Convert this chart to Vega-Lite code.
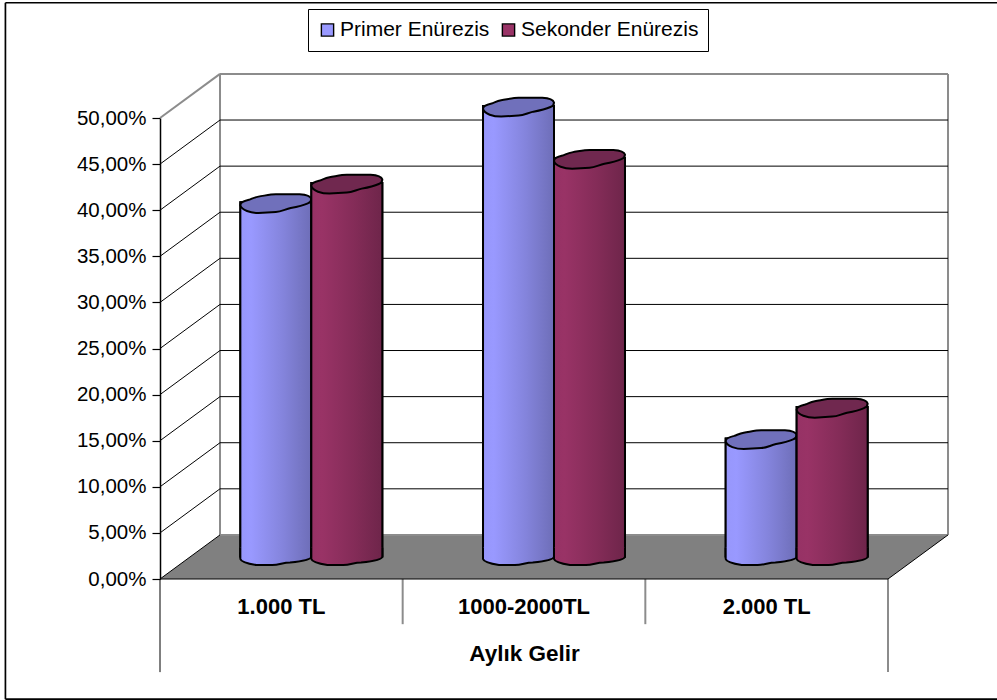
{
  "$schema": "https://vega.github.io/schema/vega-lite/v6.json",
  "width": 728,
  "height": 461,
  "padding": {"left": 160, "top": 118, "right": 109, "bottom": 121},
  "autosize": "none",
  "background": "white",
  "config": {
    "font": "Liberation Sans",
    "view": {"stroke": null},
    "axis": {"grid": false}
  },
  "datasets": {
    "results": [
      {"gelir": "1.000 TL", "tur": "Primer Enürezis", "oran": 38.3},
      {"gelir": "1.000 TL", "tur": "Sekonder Enürezis", "oran": 40.4},
      {"gelir": "1000-2000TL", "tur": "Primer Enürezis", "oran": 48.75},
      {"gelir": "1000-2000TL", "tur": "Sekonder Enürezis", "oran": 43.1},
      {"gelir": "2.000 TL", "tur": "Primer Enürezis", "oran": 12.7},
      {"gelir": "2.000 TL", "tur": "Sekonder Enürezis", "oran": 16.1}
    ],
    "floor": [
      {"d": 0, "a": 0, "b": 0},
      {"d": 0.2473, "a": 4.78, "b": 0},
      {"d": 3, "a": 4.78, "b": 0},
      {"d": 3.2473, "a": 4.78, "b": 4.78}
    ],
    "ink": [
      {"id": "s0", "d": 0, "v": 0}, {"id": "s0", "d": 0.2473, "v": 4.78},
      {"id": "s5", "d": 0, "v": 5}, {"id": "s5", "d": 0.2473, "v": 9.78},
      {"id": "s10", "d": 0, "v": 10}, {"id": "s10", "d": 0.2473, "v": 14.78},
      {"id": "s15", "d": 0, "v": 15}, {"id": "s15", "d": 0.2473, "v": 19.78},
      {"id": "s20", "d": 0, "v": 20}, {"id": "s20", "d": 0.2473, "v": 24.78},
      {"id": "s25", "d": 0, "v": 25}, {"id": "s25", "d": 0.2473, "v": 29.78},
      {"id": "s30", "d": 0, "v": 30}, {"id": "s30", "d": 0.2473, "v": 34.78},
      {"id": "s35", "d": 0, "v": 35}, {"id": "s35", "d": 0.2473, "v": 39.78},
      {"id": "s40", "d": 0, "v": 40}, {"id": "s40", "d": 0.2473, "v": 44.78},
      {"id": "s45", "d": 0, "v": 45}, {"id": "s45", "d": 0.2473, "v": 49.78},
      {"id": "b5", "d": 0.2473, "v": 9.78}, {"id": "b5", "d": 3.2473, "v": 9.78},
      {"id": "b10", "d": 0.2473, "v": 14.78}, {"id": "b10", "d": 3.2473, "v": 14.78},
      {"id": "b15", "d": 0.2473, "v": 19.78}, {"id": "b15", "d": 3.2473, "v": 19.78},
      {"id": "b20", "d": 0.2473, "v": 24.78}, {"id": "b20", "d": 3.2473, "v": 24.78},
      {"id": "b25", "d": 0.2473, "v": 29.78}, {"id": "b25", "d": 3.2473, "v": 29.78},
      {"id": "b30", "d": 0.2473, "v": 34.78}, {"id": "b30", "d": 3.2473, "v": 34.78},
      {"id": "b35", "d": 0.2473, "v": 39.78}, {"id": "b35", "d": 3.2473, "v": 39.78},
      {"id": "b40", "d": 0.2473, "v": 44.78}, {"id": "b40", "d": 3.2473, "v": 44.78},
      {"id": "b45", "d": 0.2473, "v": 49.78}, {"id": "b45", "d": 3.2473, "v": 49.78},
      {"id": "floorRight", "d": 3, "v": 0}, {"id": "floorRight", "d": 3.2473, "v": 4.78},
      {"id": "floorFront", "d": 0, "v": 0}, {"id": "floorFront", "d": 3, "v": 0},
      {"id": "drop0", "d": 0, "v": 0}, {"id": "drop0", "d": 0, "v": -10.1}
    ],
    "frame": [
      {"id": "frameLeft", "d": -0.637, "v": -13.03}, {"id": "frameLeft", "d": -0.637, "v": 62.5},
      {"id": "frameTop", "d": -0.637, "v": 62.5}, {"id": "frameTop", "d": 3.46, "v": 62.5},
      {"id": "frameBottom", "d": -0.637, "v": -13.03}, {"id": "frameBottom", "d": 3.46, "v": -13.03}
    ],
    "walls": [
      {"id": "s50", "d": 0, "v": 50}, {"id": "s50", "d": 0.2473, "v": 54.78},
      {"id": "b50", "d": 0.2473, "v": 54.78}, {"id": "b50", "d": 3.2473, "v": 54.78},
      {"id": "b0", "d": 0.2473, "v": 4.78}, {"id": "b0", "d": 3.2473, "v": 4.78},
      {"id": "backLeft", "d": 0.2473, "v": 4.78}, {"id": "backLeft", "d": 0.2473, "v": 54.78},
      {"id": "backRight", "d": 3.2473, "v": 4.78}, {"id": "backRight", "d": 3.2473, "v": 54.78},
      {"id": "drop1", "d": 1, "v": 0}, {"id": "drop1", "d": 1, "v": -4.9},
      {"id": "drop2", "d": 2, "v": 0}, {"id": "drop2", "d": 2, "v": -4.9},
      {"id": "drop3", "d": 3, "v": 0}, {"id": "drop3", "d": 3, "v": -10.1}
    ]
  },
  "layer": [
    {
      "layer": [
        {
          "data": {"name": "floor"},
          "mark": {"type": "area", "color": "#808080"},
          "encoding": {
            "x": {"field": "d", "type": "quantitative", "axis": null, "scale": {"domain": [0, 3], "nice": false, "zero": false}},
            "y": {
              "field": "a", "type": "quantitative", "title": null,
              "scale": {"domain": [0, 50], "nice": false},
              "axis": {
                "values": [0, 5, 10, 15, 20, 25, 30, 35, 40, 45, 50],
                "labelExpr": "replace(format(datum.value, '.2f'), '.', ',') + '%'",
                "labelFontSize": 20.5, "labelColor": "#000", "labelPadding": 6, "labelOverlap": false, "labelBound": false,
                "tickColor": "#000", "tickSize": 8, "domainColor": "#000", "domainWidth": 1.5, "tickWidth": 1.2, "title": null
              }
            },
            "y2": {"field": "b"}
          }
        },
        {
          "data": {"name": "walls"},
          "mark": {"type": "line", "color": "#8c8c8c", "strokeWidth": 2},
          "encoding": {
            "x": {"field": "d", "type": "quantitative", "axis": null},
            "y": {"field": "v", "type": "quantitative", "title": null},
            "detail": {"field": "id"}
          }
        },
        {
          "data": {"name": "ink"},
          "mark": {"type": "line", "color": "#000", "strokeWidth": 1},
          "encoding": {
            "x": {"field": "d", "type": "quantitative", "axis": null},
            "y": {"field": "v", "type": "quantitative", "title": null},
            "detail": {"field": "id"}
          }
        },
        {
          "data": {"name": "frame"},
          "mark": {"type": "line", "color": "#000", "strokeWidth": 1.7},
          "encoding": {
            "x": {"field": "d", "type": "quantitative", "axis": null},
            "y": {"field": "v", "type": "quantitative", "title": null},
            "detail": {"field": "id"}
          }
        }
      ]
    },
    {
      "data": {"name": "results"},
      "encoding": {
        "x": {
          "field": "gelir", "type": "nominal", "sort": null,
          "scale": {"paddingInner": 0.415, "paddingOuter": 0.2075, "range": [30, 758]},
          "title": "Aylık Gelir",
          "axis": {
            "labelAngle": 0, "labelOffset": -30, "labelFontSize": 22, "labelFontWeight": "bold", "labelColor": "#000",
            "labelPadding": 17, "labelOverlap": false, "labelBound": false, "ticks": false, "domain": false,
            "titleFontSize": 22.5, "titleFontWeight": "bold", "titleColor": "#000", "titlePadding": 25, "titleX": 364
          }
        },
        "xOffset": {"field": "tur", "type": "nominal", "sort": null, "scale": {"paddingInner": 0, "paddingOuter": 0}},
        "y": {"field": "oran", "type": "quantitative", "title": null}
      },
      "layer": [
        {
          "transform": [{"filter": "datum.tur === 'Primer Enürezis'"}],
          "layer": [
            {
              "mark": {"type": "bar", "stroke": "#000", "strokeWidth": 2, "yOffset": -23.5, "y2Offset": -22.5},
              "encoding": {
                "y2": {"datum": 0},
                "color": {
                  "field": "tur", "type": "nominal",
                  "scale": {"domain": ["Primer Enürezis", "Sekonder Enürezis"], "range": ["#9999ff", "#993366"]},
                  "legend": {
                    "title": null, "orient": "none", "legendX": 148, "legendY": -109, "direction": "horizontal", "columns": 2,
                    "symbolType": "square", "symbolSize": 150, "symbolStrokeColor": "#000", "symbolStrokeWidth": 1.4,
                    "labelFontSize": 21, "labelOffset": 2, "labelColor": "#000", "labelLimit": 300, "columnPadding": 8,
                    "clipHeight": 24, "strokeColor": "#000", "fillColor": "#fff", "padding": 9
                  }
                }
              }
            },
            {
              "mark": {
                "type": "bar", "stroke": "#000", "strokeWidth": 2, "yOffset": -23.5, "y2Offset": -22.5,
                "fill": {"gradient": "linear", "x1": 0, "x2": 1, "y1": 0, "y2": 0, "stops": [{"offset": 0, "color": "#9797fb"}, {"offset": 0.15, "color": "#9999ff"}, {"offset": 0.6, "color": "#8484dc"}, {"offset": 1, "color": "#6e6eb8"}]}
              },
              "encoding": {"y2": {"datum": 0}}
            },
            {
              "mark": {
                "type": "point", "filled": true, "opacity": 1, "size": 5041, "stroke": "#000", "strokeWidth": 2, "yOffset": -22.5,
                "shape": "M-1,-0.25 L-1,0.07 C-0.98,0.15 -0.8,0.2 -0.55,0.24 L-0.1,0.24 C0.1,0.24 0.2,0.17 0.4,0.17 C0.8,0.13 1,0.08 1,0 L1,-0.25",
                "fill": {"gradient": "linear", "x1": 0, "x2": 1, "y1": 0, "y2": 0, "stops": [{"offset": 0, "color": "#9797fb"}, {"offset": 0.15, "color": "#9999ff"}, {"offset": 0.6, "color": "#8484dc"}, {"offset": 1, "color": "#6e6eb8"}]}
              },
              "encoding": {"y": {"datum": 0, "type": "quantitative", "title": null}}
            },
            {
              "mark": {
                "type": "point", "filled": true, "opacity": 1, "size": 5041, "fill": "#7070bb", "stroke": "#000", "strokeWidth": 2, "yOffset": -22.5,
                "shape": "M-1,0.05 C-1,-0.03 -0.9,-0.07 -0.76,-0.1 C-0.65,-0.14 -0.6,-0.17 -0.49,-0.19 C-0.3,-0.22 -0.15,-0.26 0,-0.26 L0.67,-0.26 C0.85,-0.25 0.98,-0.2 1,-0.13 C1,-0.08 0.98,-0.03 0.9,0 C0.75,0.07 0.6,0.1 0.42,0.13 C0.25,0.17 0.15,0.24 0,0.24 L-0.49,0.27 C-0.7,0.27 -0.97,0.2 -1,0.05 Z"
              }
            }
          ]
        },
        {
          "transform": [{"filter": "datum.tur === 'Sekonder Enürezis'"}],
          "layer": [
            {
              "mark": {"type": "bar", "stroke": "#000", "strokeWidth": 2, "yOffset": -23.5, "y2Offset": -22.5},
              "encoding": {
                "y2": {"datum": 0},
                "color": {"field": "tur", "type": "nominal"}
              }
            },
            {
              "mark": {
                "type": "bar", "stroke": "#000", "strokeWidth": 2, "yOffset": -23.5, "y2Offset": -22.5,
                "fill": {"gradient": "linear", "x1": 0, "x2": 1, "y1": 0, "y2": 0, "stops": [{"offset": 0, "color": "#963265"}, {"offset": 0.15, "color": "#993366"}, {"offset": 0.6, "color": "#842c58"}, {"offset": 1, "color": "#6e254a"}]}
              },
              "encoding": {"y2": {"datum": 0}}
            },
            {
              "mark": {
                "type": "point", "filled": true, "opacity": 1, "size": 5041, "stroke": "#000", "strokeWidth": 2, "yOffset": -22.5,
                "shape": "M-1,-0.25 L-1,0.07 C-0.98,0.15 -0.8,0.2 -0.55,0.24 L-0.1,0.24 C0.1,0.24 0.2,0.17 0.4,0.17 C0.8,0.13 1,0.08 1,0 L1,-0.25",
                "fill": {"gradient": "linear", "x1": 0, "x2": 1, "y1": 0, "y2": 0, "stops": [{"offset": 0, "color": "#963265"}, {"offset": 0.15, "color": "#993366"}, {"offset": 0.6, "color": "#842c58"}, {"offset": 1, "color": "#6e254a"}]}
              },
              "encoding": {"y": {"datum": 0, "type": "quantitative", "title": null}}
            },
            {
              "mark": {
                "type": "point", "filled": true, "opacity": 1, "size": 5041, "fill": "#70284f", "stroke": "#000", "strokeWidth": 2, "yOffset": -22.5,
                "shape": "M-1,0.05 C-1,-0.03 -0.9,-0.07 -0.76,-0.1 C-0.65,-0.14 -0.6,-0.17 -0.49,-0.19 C-0.3,-0.22 -0.15,-0.26 0,-0.26 L0.67,-0.26 C0.85,-0.25 0.98,-0.2 1,-0.13 C1,-0.08 0.98,-0.03 0.9,0 C0.75,0.07 0.6,0.1 0.42,0.13 C0.25,0.17 0.15,0.24 0,0.24 L-0.49,0.27 C-0.7,0.27 -0.97,0.2 -1,0.05 Z"
              }
            }
          ]
        }
      ]
    }
  ],
  "resolve": {"scale": {"x": "independent", "xOffset": "independent"}}
}
